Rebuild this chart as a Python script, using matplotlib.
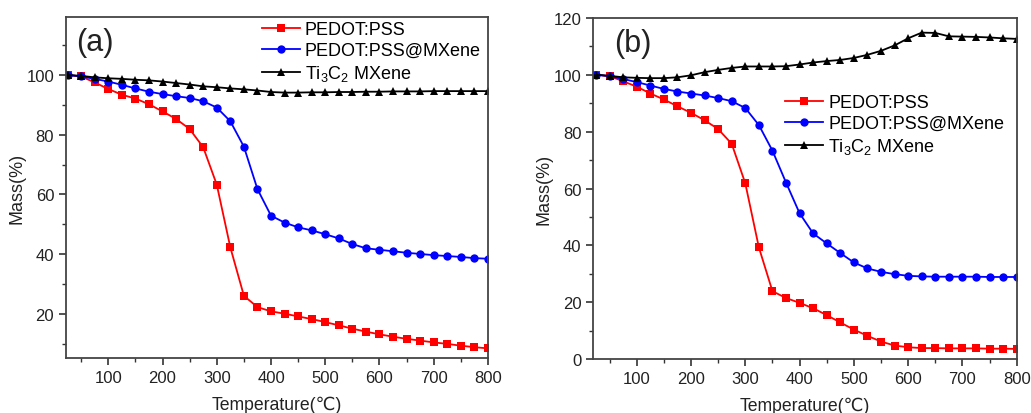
import matplotlib
matplotlib.use("Agg")
import matplotlib.pyplot as plt
from matplotlib.ticker import MultipleLocator

plt.rcParams['font.family'] = ['Liberation Sans', 'DejaVu Sans']
plt.rcParams['mathtext.default'] = 'regular'

temperature = list(range(25, 801, 25))

a_pedot = [100, 99.5, 97.5, 95.3, 93.4, 92.1, 90.2, 87.8, 85.3, 81.9, 75.8, 63.3,
           42.3, 26.1, 22.3, 20.9, 20.1, 19.2, 18.3, 17.3, 16.2, 15.1, 14.1, 13.2,
           12.4, 11.7, 11.1, 10.5, 10.0, 9.4, 8.9, 8.5]
a_mxcomp = [100, 99.5, 98.7, 97.8, 96.7, 95.5, 94.4, 93.6, 92.9, 92.3, 91.2, 89.1,
            84.5, 76.0, 61.8, 52.9, 50.6, 49.0, 48.0, 46.7, 45.3, 43.4, 42.0, 41.5,
            41.0, 40.5, 40.1, 39.7, 39.4, 39.1, 38.7, 38.5]
a_mxene = [100, 99.7, 99.2, 98.9, 98.7, 98.4, 98.2, 97.8, 97.3, 96.8, 96.2, 95.9,
           95.5, 95.2, 94.8, 94.3, 94.1, 94.1, 94.2, 94.2, 94.3, 94.3, 94.4, 94.4,
           94.5, 94.5, 94.5, 94.6, 94.6, 94.6, 94.6, 94.6]

b_pedot = [100, 99.5, 97.7, 95.8, 93.4, 91.3, 88.9, 86.6, 84.0, 80.9, 75.7, 61.8,
           39.3, 23.9, 21.5, 19.8, 17.9, 15.5, 12.9, 10.4, 8.2, 6.2, 4.8, 4.2,
           3.9, 3.9, 3.8, 3.8, 3.8, 3.7, 3.7, 3.6]
b_mxcomp = [100, 99.5, 98.5, 97.4, 96.2, 95.0, 94.1, 93.4, 92.7, 91.8, 90.7, 88.3,
            82.3, 73.3, 62.1, 51.3, 44.2, 40.7, 37.3, 34.0, 31.9, 30.7, 29.9, 29.3,
            29.1, 29.0, 29.0, 29.0, 29.0, 28.9, 28.9, 28.9]
b_mxene = [100, 99.6, 99.1, 98.9, 98.8, 98.8, 99.1, 99.8, 100.9, 101.7, 102.4, 102.9,
           102.9, 102.9, 103.0, 103.6, 104.3, 104.8, 105.2, 105.9, 107.0, 108.4, 110.3, 112.8,
           114.8, 114.7, 113.5, 113.4, 113.3, 113.1, 112.8, 112.6]

labels = ['PEDOT:PSS', 'PEDOT:PSS@MXene', r'Ti$_3$C$_2$ MXene']
colors = ['#ff0000', '#0000ff', '#000000']
markers = ['s', 'o', '^']

fig = plt.figure(figsize=(10.31, 4.14), dpi=100)
ax1 = fig.add_axes([0.064, 0.133, 0.4093, 0.8235])
ax2 = fig.add_axes([0.5755, 0.130, 0.4106, 0.8245])

def style(ax, ylim, ymajor, panel):
    ax.set_xlim(22 if panel == '(a)' else 20, 800)
    ax.set_ylim(*ylim)
    ax.xaxis.set_major_locator(MultipleLocator(100))
    ax.xaxis.set_minor_locator(MultipleLocator(50))
    ax.yaxis.set_major_locator(MultipleLocator(ymajor))
    ax.yaxis.set_minor_locator(MultipleLocator(ymajor / 2))
    ax.tick_params(which='major', direction='out', length=5, width=1.2, labelsize=12,
                   colors='#333333', labelcolor='#222222', pad=3.5)
    ax.tick_params(which='minor', direction='out', length=2.8, width=1.0, colors='#333333')
    for s in ax.spines.values():
        s.set_linewidth(1.3)
        s.set_color('#444444')
    ax.set_xlabel('Temperature(\u2103)', fontsize=12.7, color='#222222', labelpad=8)
    ax.set_ylabel('Mass(%)', fontsize=13, color='#222222', labelpad=1)
    ax.text(0.025 if panel == '(a)' else 0.05, 0.97, panel, transform=ax.transAxes,
            fontsize=22, va='top', ha='left', color='#222222')

series_a = [a_pedot, a_mxcomp, a_mxene]
series_b = [b_pedot, b_mxcomp, b_mxene]

for ys, lab, c, m in zip(series_a, labels, colors, markers):
    ax1.plot(temperature, ys, color=c, marker=m, markersize=6, linewidth=1.3, label=lab,
             markeredgewidth=0)
for ys, lab, c, m in zip(series_b, labels, colors, markers):
    ax2.plot(temperature, ys, color=c, marker=m, markersize=6, linewidth=1.3, label=lab,
             markeredgewidth=0)

style(ax1, (5.3, 119.4), 20, '(a)')
style(ax2, (0, 120), 20, '(b)')
ax1.set_yticks([20, 40, 60, 80, 100])

leg_kw = dict(frameon=False, fontsize=13, handlelength=2.1, handletextpad=0.28,
              labelspacing=0.22, borderaxespad=0, borderpad=0, loc='upper left')
ax1.legend(bbox_to_anchor=(0.464, 0.988), **leg_kw)
ax2.legend(bbox_to_anchor=(0.453, 0.777), **leg_kw)

fig.savefig('out.png', dpi=100)
